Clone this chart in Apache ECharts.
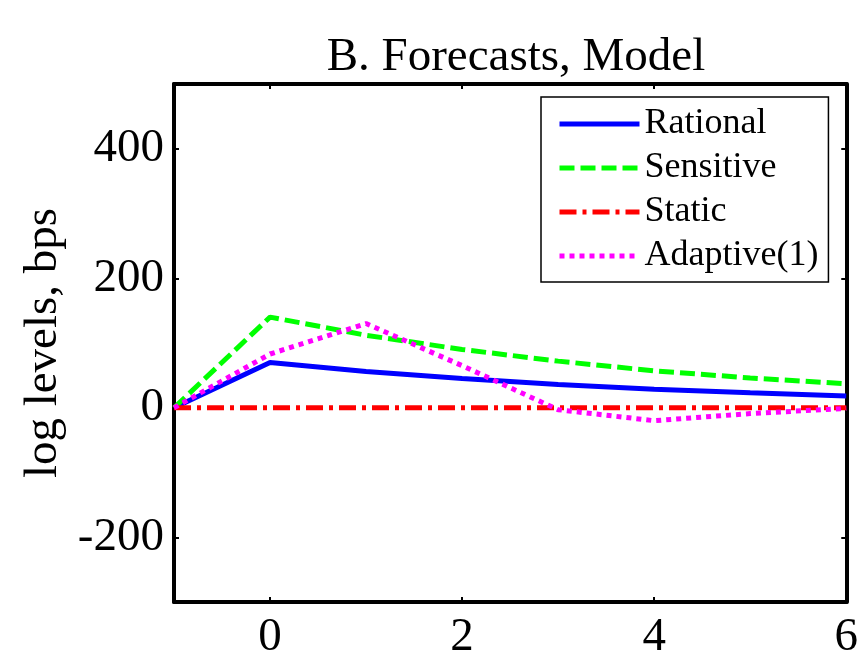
<!DOCTYPE html>
<html>
<head>
<meta charset="utf-8">
<script src="https://cdn.jsdelivr.net/npm/echarts@6/dist/echarts.min.js"></script>
<style>
html,body{margin:0;padding:0;background:#fff;}
#chart{width:861px;height:661px;}
</style>
</head>
<body>
<div id="chart"></div>
<script>
// ---- data ----
var horizons = [-1, 0, 1, 2, 3, 4, 5, 6];
var rational = [0, 70, 56, 45, 36, 28.5, 23, 18];
var sensitive = [0, 140, 112, 90, 72, 57, 46, 37];
var staticF = [0, 0, 0, 0, 0, 0, 0, 0];
var adaptive = [0, 83, 130, 65, -3, -20, -9, -1];
var xTicks = [0, 2, 4, 6];
var yTicks = [-200, 0, 200, 400];
var seriesNames = ['Rational', 'Sensitive', 'Static', 'Adaptive(1)'];
var titleText = 'B. Forecasts, Model';
var yName = 'log levels, bps';

function pairs(vals) {
  return horizons.map(function (x, i) { return [x, vals[i]]; });
}

var FONT = 'Liberation Serif';
var chart = echarts.init(document.getElementById('chart'), null, {renderer: 'canvas'});

var lineStyles = [
  {color: '#0000ff', width: 5, type: 'solid'},
  {color: '#00ff00', width: 5, type: [15, 6], cap: 'butt'},
  {color: '#ff0000', width: 5, type: [17, 6, 4, 6], cap: 'butt'},
  {color: '#ff00ff', width: 5, type: [5, 5], cap: 'butt'}
];
var dataSets = [rational, sensitive, staticF, adaptive];

var series = seriesNames.map(function (name, i) {
  return {
    name: name,
    type: 'line',
    data: pairs(dataSets[i]),
    showSymbol: false,
    symbol: 'none',
    lineStyle: lineStyles[i],
    itemStyle: {color: lineStyles[i].color},
    z: 2 + i,
    animation: false
  };
});

var axisLineStyle = {color: '#000', width: 4};

var option = {
  backgroundColor: '#fff',
  animation: false,
  title: {
    text: titleText,
    left: 511,
    textAlign: 'center',
    top: 29,
    textStyle: {fontFamily: FONT, fontSize: 47, fontWeight: 'normal', color: '#000'}
  },
  grid: {left: 174, right: 13, top: 84, bottom: 56, containLabel: false},
  legend: {
    orient: 'vertical',
    left: 541,
    top: 97,
    padding: [9, 10, 8, 16],
    backgroundColor: '#fff',
    borderColor: '#000',
    borderWidth: 1.5,
    borderRadius: 0,
    itemWidth: 80,
    itemHeight: 14,
    itemGap: 8,
    textStyle: {fontFamily: FONT, fontSize: 36, color: '#000', lineHeight: 36},
    data: seriesNames.map(function (n, i) {
      return {name: n, lineStyle: lineStyles[i], itemStyle: {opacity: 0}};
    })
  },
  xAxis: [{
    type: 'value',
    min: -1, max: 6,
    position: 'bottom',
    axisLine: {show: true, onZero: false, lineStyle: axisLineStyle},
    axisTick: {show: true, inside: true, length: 5, lineStyle: {color: '#000', width: 2}, customValues: xTicks},
    axisLabel: {show: true, margin: 12, fontFamily: FONT, fontSize: 47, color: '#000', customValues: xTicks},
    splitLine: {show: false}
  }, {
    type: 'value',
    min: -1, max: 6,
    position: 'top',
    axisLine: {show: true, onZero: false, lineStyle: axisLineStyle},
    axisTick: {show: true, inside: true, length: 5, lineStyle: {color: '#000', width: 2}, customValues: xTicks},
    axisLabel: {show: false},
    splitLine: {show: false}
  }],
  yAxis: [{
    type: 'value',
    min: -300, max: 500,
    position: 'left',
    name: yName,
    nameLocation: 'middle',
    nameRotate: 90,
    nameGap: 106,
    nameTextStyle: {fontFamily: FONT, fontSize: 47, color: '#000'},
    axisLine: {show: true, onZero: false, lineStyle: axisLineStyle},
    axisTick: {show: true, inside: true, length: 5, lineStyle: {color: '#000', width: 2}, customValues: yTicks},
    axisLabel: {show: true, margin: 10, fontFamily: FONT, fontSize: 47, color: '#000', customValues: yTicks},
    splitLine: {show: false}
  }, {
    type: 'value',
    min: -300, max: 500,
    position: 'right',
    axisLine: {show: true, onZero: false, lineStyle: axisLineStyle},
    axisTick: {show: true, inside: true, length: 5, lineStyle: {color: '#000', width: 2}, customValues: yTicks},
    axisLabel: {show: false},
    splitLine: {show: false}
  }],
  series: series
};
chart.setOption(option);
</script>
</body>
</html>
